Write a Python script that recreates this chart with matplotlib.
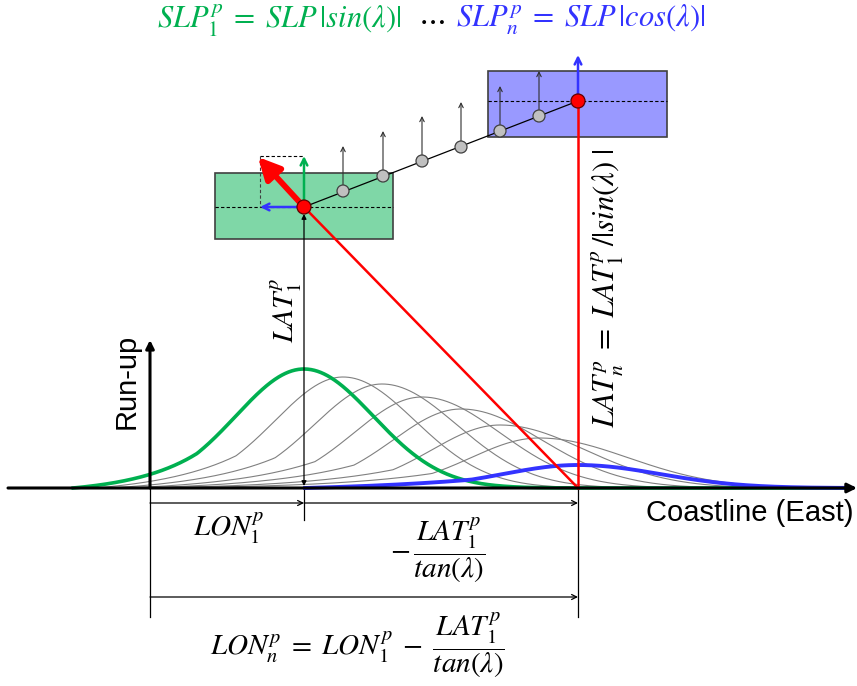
import matplotlib
matplotlib.use("Agg")
import matplotlib.pyplot as plt
from matplotlib.patches import Rectangle, Circle
import numpy as np

plt.rcParams['font.family'] = ['Liberation Sans', 'DejaVu Sans']
plt.rcParams['mathtext.fontset'] = 'stix'

GREEN = '#00b050'
BLUE = '#3333ff'
RED = '#ff0000'
GRAY = '#808080'

# run-up curves, in pixels of the 857x686 sketch (first = green, last = blue)
peak_x = [304, 343, 382, 422, 461, 500, 539, 578]
peak_h = [119, 111, 104, 91, 79, 63, 50, 23]
sigma_left = [68, 68, 68, 68, 68, 68, 68, 75]
sigma_right = [69, 72, 75, 78, 81, 85, 89, 82]
tail_start = [73, 95, 110, 125, 135, 145, 150, 305]
tail_len = [65, 80, 85, 90, 95, 100, 105, 150]
kink_dist = 107

# sub-fault points between the two end patches
dot_x = [343, 383, 422, 461, 500, 539]
dot_y = [191, 176, 161, 147, 131, 116]
first_pt = (304, 207)
last_pt = (578, 101)

baseline = 488
lon0_x = 150
MATH = 21


def runup(x, c, h, sl, sr, x0, L):
    y = np.where(x < c, np.exp(-(x - c) ** 2 / (2 * sl ** 2)),
                 np.exp(-(x - c) ** 2 / (2 * sr ** 2)))
    xk = c - kink_dist
    k = np.exp(-kink_dist ** 2 / (2 * sl ** 2))
    e0 = np.exp((x0 - xk) / L)
    tail = k * (np.exp((x - xk) / L) - e0) / (1 - e0)
    y = np.where(x < xk, np.clip(tail, 0, None), y)
    return h * y


def arrow(ax, p0, p1, color='black', lw=1.0, style='->', scale=10, z=6):
    ax.annotate('', xy=p1, xytext=p0,
                arrowprops=dict(arrowstyle=style, color=color, lw=lw,
                                shrinkA=0, shrinkB=0, mutation_scale=scale),
                zorder=z)


fig = plt.figure(figsize=(8.57, 6.86), dpi=100)
ax = fig.add_axes([0, 0, 1, 1])
ax.set_xlim(0, 857)
ax.set_ylim(686, 0)
ax.axis('off')

# curves
xs = np.linspace(60, 852, 1200)
n = len(peak_x)
for i in range(n):
    m = xs >= tail_start[i]
    yv = runup(xs[m], peak_x[i], peak_h[i], sigma_left[i], sigma_right[i],
               tail_start[i], tail_len[i])
    if i == 0:
        ax.plot(xs[m], baseline - yv, color=GREEN, lw=2.6, zorder=3)
    elif i == n - 1:
        ax.plot(xs[m], baseline - yv, color=BLUE, lw=2.8, zorder=3)
    else:
        ax.plot(xs[m], baseline - yv, color=GRAY, lw=0.8, zorder=2)

# axes of the sketch
arrow(ax, (8, baseline), (857, baseline), lw=2.2, style='-|>', scale=14, z=5)
arrow(ax, (lon0_x, baseline), (lon0_x, 340), lw=2.2, style='-|>', scale=12, z=5)
ax.text(127, 381, 'Run-up', rotation=90, ha='center', va='center', fontsize=21)
ax.text(854, 513, 'Coastline (East)', ha='right', va='center', fontsize=21)

# fault patches
ax.add_patch(Rectangle((215, 173), 178, 66, facecolor='#7fd7a7',
                       edgecolor='#404040', lw=1.2, zorder=1))
ax.add_patch(Rectangle((488, 71), 179, 66, facecolor='#9999ff',
                       edgecolor='#404040', lw=1.2, zorder=1))
ax.plot([215, 393], [first_pt[1], first_pt[1]], color='black', lw=0.8, ls=(0, (3, 2)), zorder=2)
ax.plot([488, 667], [last_pt[1], last_pt[1]], color='black', lw=0.8, ls=(0, (3, 2)), zorder=2)

# fault trace with sub-faults
ax.plot([first_pt[0], last_pt[0]], [first_pt[1], last_pt[1]], color='black', lw=0.9, zorder=4)
for x, y in zip(dot_x, dot_y):
    arrow(ax, (x, y), (x, y - 45), color='#303030', lw=0.8, style='->', scale=8, z=4)
    ax.add_patch(Circle((x, y), 6, facecolor='#c0c0c0', edgecolor='#404040', lw=0.9, zorder=7))

# red rays and vectors
ax.plot([first_pt[0], last_pt[0]], [first_pt[1], baseline], color=RED, lw=1.8, zorder=4)
ax.plot([last_pt[0], last_pt[0]], [last_pt[1], baseline], color=RED, lw=1.8, zorder=4)
ax.plot([260, 304], [156, 156], color='black', lw=0.8, ls=(0, (3, 2)), zorder=3)
ax.plot([260, 260], [156, 207], color='#404040', lw=0.8, ls=(0, (3, 2)), zorder=3)
arrow(ax, first_pt, (258, 157), color=RED, lw=4.2, style='-|>,head_width=0.5,head_length=1.0',
      scale=13, z=6)
arrow(ax, first_pt, (304, 156), color=GREEN, lw=1.8, style='->', scale=12, z=6)
arrow(ax, first_pt, (260, 207), color=BLUE, lw=1.8, style='->', scale=12, z=6)
arrow(ax, last_pt, (578, 55), color=BLUE, lw=1.8, style='->', scale=12, z=6)
ax.add_patch(Circle(first_pt, 7, facecolor=RED, edgecolor='#600000', lw=0.9, zorder=8))
ax.add_patch(Circle(last_pt, 7, facecolor=RED, edgecolor='#600000', lw=0.9, zorder=8))

# LAT_1 dimension
arrow(ax, (304, 486), (304, 214), lw=0.9, style='<|-|>', scale=7, z=4)
ax.plot([304, 304], [baseline, 520], color='black', lw=0.9)
ax.text(286, 310, r'$LAT_1^p$', rotation=90, ha='center', va='center', fontsize=MATH)
ax.text(607, 288, r'$LAT_n^p\;=\;LAT_1^p\,/|sin(\lambda)\ |$', rotation=90,
        ha='center', va='center', fontsize=22)

# LON dimensions
ax.plot([lon0_x, lon0_x], [baseline, 617], color='black', lw=0.9)
ax.plot([578, 578], [baseline, 617], color='black', lw=0.9)
arrow(ax, (lon0_x, 503), (304, 503), lw=0.9, style='->', scale=9)
arrow(ax, (304, 503), (578, 503), lw=0.9, style='->', scale=9)
arrow(ax, (lon0_x, 597), (578, 597), lw=0.9, style='->', scale=9)
ax.text(229, 528, r'$LON_1^p$', ha='center', va='center', fontsize=MATH)
ax.text(438, 550, r'$-\,\dfrac{LAT_1^p}{tan(\lambda)}$', ha='center', va='center', fontsize=MATH)
ax.text(357, 645, r'$LON_n^p\;=\;LON_1^p\;-\;\dfrac{LAT_1^p}{tan(\lambda)}$',
        ha='center', va='center', fontsize=MATH)

# title
ax.text(402, 20, r'$SLP_1^p\;=\;SLP\,|sin(\lambda)|$', color=GREEN, ha='right', va='center', fontsize=22)
ax.text(431, 20, r'$\cdots$', color='black', ha='center', va='center', fontsize=22)
ax.text(456, 20, r'$SLP_n^p\;=\;SLP\,|cos(\lambda)|$', color=BLUE, ha='left', va='center', fontsize=22)

fig.savefig('out.png', dpi=100)
